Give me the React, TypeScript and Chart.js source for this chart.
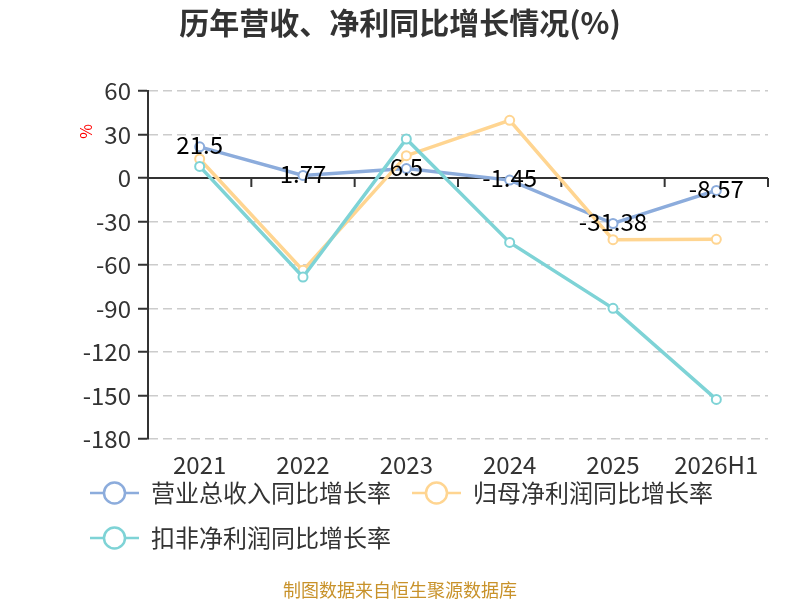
import { useEffect, useRef } from 'react';
import { Chart, registerables } from 'chart.js';
import type { Plugin } from 'chart.js';

Chart.register(...registerables);

const categories = ['2021', '2022', '2023', '2024', '2025', '2026H1'];
const revenueGrowth = [21.5, 1.77, 6.5, -1.45, -31.38, -8.57];
const netProfitGrowth = [13.1, -63.7, 15.4, 39.8, -42.5, -42.3];
const deductedProfitGrowth = [8.0, -68.3, 26.9, -44.4, -89.9, -152.7];
const seriesNames = ['营业总收入同比增长率', '归母净利润同比增长率', '扣非净利润同比增长率'];
const seriesColors = ['#8cacdc', '#ffd591', '#7ed3d6'];
const yMin = -180;
const yMax = 60;
const yStep = 30;

const titleText = '历年营收、净利同比增长情况(%)';
const footerText = '制图数据来自恒生聚源数据库';
const fontFamily = "'Noto Sans CJK SC', 'Noto Sans', sans-serif";

// axis line at y=0 with category tick marks
const zeroAxis: Plugin<'line'> = {
    id: 'zeroAxis',
    beforeDatasetsDraw(chart) {
        const { ctx, chartArea, scales } = chart;
        const y = scales.y.getPixelForValue(0);
        const step = (chartArea.right - chartArea.left) / categories.length;
        ctx.save();
        ctx.strokeStyle = '#333';
        ctx.lineWidth = 2;
        ctx.beginPath();
        ctx.moveTo(chartArea.left, y);
        ctx.lineTo(chartArea.right, y);
        for (let i = 1; i <= categories.length; i++) {
            const tx = chartArea.left + step * i;
            ctx.moveTo(tx, y);
            ctx.lineTo(tx, y + 9);
        }
        ctx.stroke();
        ctx.restore();
    }
};

// value labels, title, unit, legend and footer
const decorations: Plugin<'line'> = {
    id: 'decorations',
    afterDatasetsDraw(chart) {
        const { ctx } = chart;
        const meta = chart.getDatasetMeta(0);
        ctx.save();
        ctx.font = `24px ${fontFamily}`;
        ctx.fillStyle = '#000';
        ctx.textAlign = 'center';
        ctx.textBaseline = 'middle';
        meta.data.forEach((pt, i) => {
            ctx.fillText(String(revenueGrowth[i]), pt.x, pt.y - 2);
        });
        ctx.restore();
    },
    afterDraw(chart) {
        const { ctx, chartArea, scales } = chart;
        ctx.save();
        ctx.textAlign = 'center';
        ctx.textBaseline = 'middle';
        ctx.fillStyle = '#333';
        ctx.font = `bold 30px ${fontFamily}`;
        ctx.fillText(titleText, 400, 23);
        ctx.fillStyle = '#c8922a';
        ctx.font = `18px ${fontFamily}`;
        ctx.fillText(footerText, 400, 590);

        // legend, two rows
        ctx.font = `24px ${fontFamily}`;
        ctx.textAlign = 'left';
        const rows = [[0, 1], [2]];
        rows.forEach((row, r) => {
            const y = 493 + r * 45;
            let x = 90;
            row.forEach((idx) => {
                ctx.strokeStyle = seriesColors[idx];
                ctx.lineWidth = 2.5;
                ctx.beginPath();
                ctx.moveTo(x, y);
                ctx.lineTo(x + 49, y);
                ctx.stroke();
                ctx.fillStyle = '#fff';
                ctx.beginPath();
                ctx.arc(x + 24.5, y, 10.5, 0, Math.PI * 2);
                ctx.fill();
                ctx.stroke();
                ctx.fillStyle = '#333';
                ctx.fillText(seriesNames[idx], x + 61, y);
                x += 61 + ctx.measureText(seriesNames[idx]).width + 21;
            });
        });

        ctx.translate(chartArea.left - 62, scales.y.getPixelForValue(30) - 3);
        ctx.rotate(-Math.PI / 2);
        ctx.textAlign = 'center';
        ctx.fillStyle = '#ff0000';
        ctx.font = `16px ${fontFamily}`;
        ctx.fillText('%', 0, 0);
        ctx.restore();
    }
};

export default function App() {
    const canvasRef = useRef<HTMLCanvasElement>(null);
    useEffect(() => {
        if (canvasRef.current === null) return;
        const ctx = canvasRef.current.getContext('2d');
        if (ctx === null) return;
        Chart.defaults.font.family = fontFamily;
        const values = [revenueGrowth, netProfitGrowth, deductedProfitGrowth];
        const chart = new Chart(ctx, {
            type: 'line',
            data: {
                labels: categories,
                datasets: values.map((d, i) => ({
                    label: seriesNames[i],
                    data: d,
                    borderColor: seriesColors[i],
                    backgroundColor: seriesColors[i],
                    borderWidth: 3.5,
                    pointRadius: 4.5,
                    pointBorderWidth: 2,
                    pointBackgroundColor: '#fff',
                    pointBorderColor: seriesColors[i],
                    order: 2 - i,
                    tension: 0
                }))
            },
            options: {
                responsive: false,
                animation: false,
                layout: {
                    padding: { left: 69, right: 32, top: 91, bottom: 121 }
                },
                plugins: {
                    tooltip: { enabled: false },
                    legend: { display: false }
                },
                scales: {
                    x: {
                        offset: true,
                        grid: { display: false, drawTicks: false },
                        border: { display: false },
                        ticks: { color: '#333', font: { size: 24 }, padding: 11, maxRotation: 0, autoSkip: false },
                        afterFit: (scale) => { scale.height = 40; }
                    },
                    y: {
                        min: yMin,
                        max: yMax,
                        grid: {
                            color: (c) => (c.tick && c.tick.value === 0 ? 'rgba(0,0,0,0)' : '#cccccc'),
                            lineWidth: 1.5,
                            tickColor: '#333',
                            tickWidth: 2,
                            tickLength: 10,
                            tickBorderDash: [1, 0]
                        },
                        border: { display: true, color: '#333', width: 2, dash: [9, 5] },
                        ticks: { stepSize: yStep, color: '#333', font: { size: 24 }, padding: 7 },
                        afterFit: (scale) => { scale.width = 79; }
                    }
                }
            },
            plugins: [zeroAxis, decorations]
        });
        return () => {
            chart.destroy();
        };
    }, []);

    return (
        <div style={{ position: 'absolute', left: 0, top: 0, width: 800, height: 600 }}>
            <canvas ref={canvasRef} width={800} height={600}></canvas>
        </div>
    );
}
